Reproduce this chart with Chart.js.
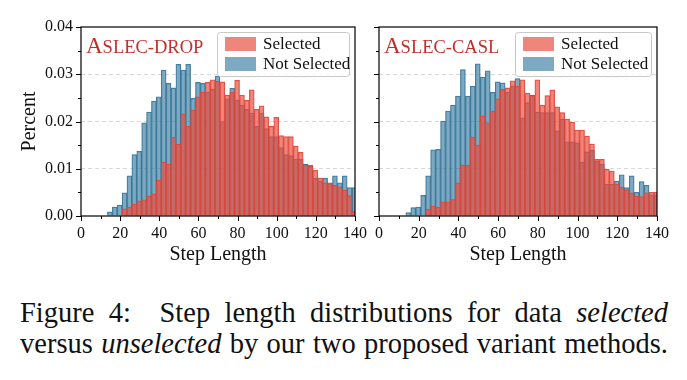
<!DOCTYPE html>
<html>
<head>
<meta charset="utf-8">
<script src="https://cdn.jsdelivr.net/npm/chart.js@4.4.1/dist/chart.umd.min.js"></script>
<style>
  html, body { margin: 0; padding: 0; background: #fff; }
  #wrap { position: relative; width: 687px; height: 380px; overflow: hidden; }
  canvas { position: absolute; top: 0; }
  #left { left: 0; }
  #right { left: 355px; }
  .caption {
    position: absolute; left: 20px; width: 648px;
    font-family: "Liberation Serif", "DejaVu Serif", serif; font-size: 28.5px;
    line-height: 30px; color: #111; white-space: nowrap;
    text-align: justify; text-align-last: justify;
  }
</style>
</head>
<body>
<div id="wrap">
  <canvas id="left" width="375" height="270"></canvas>
  <canvas id="right" width="332" height="270"></canvas>
  <div class="caption" style="top:298px">Figure 4:&nbsp; Step length distributions for data <i>selected</i></div>
  <div class="caption" style="top:329px">versus <i>unselected</i> by our two proposed variant methods.</div>
</div>
<script>
// histogram bins (bin centres, step length)
const binCenters = [14.75, 17.25, 19.75, 22.25, 24.75, 27.25, 29.75, 32.25, 34.75, 37.25,
  39.75, 42.25, 44.75, 47.25, 49.75, 52.25, 54.75, 57.25, 59.75, 62.25,
  64.75, 67.25, 69.75, 72.25, 74.75, 77.25, 79.75, 82.25, 84.75, 87.25,
  89.75, 92.25, 94.75, 97.25, 99.75, 102.25, 104.75, 107.25, 109.75, 112.25,
  114.75, 117.25, 119.75, 122.25, 124.75, 127.25, 129.75, 132.25, 134.75, 137.25, 139.75];

// ASLEC-DROP
const dropSelected = [0, 0, 0, 0.0015, 0.0019, 0.0025, 0.0032, 0.0034, 0.0042, 0.0047,
  0.0076, 0.0114, 0.0110, 0.0167, 0.0152, 0.0216, 0.0190, 0.0224, 0.0252, 0.0262,
  0.0283, 0.0288, 0.0285, 0.0284, 0.0256, 0.0262, 0.0287, 0.0256, 0.0245, 0.0267,
  0.0226, 0.0233, 0.0210, 0.0190, 0.0209, 0.0170, 0.0168, 0.0168, 0.0148, 0.0135,
  0.0108, 0.0108, 0.0097, 0.0080, 0.0070, 0.0068, 0.0065, 0.0062, 0.0055, 0.0043, 0.0010];
const dropNotSelected = [0.0009, 0.0019, 0.0023, 0.0049, 0.0085, 0.0130, 0.0137, 0.0197, 0.0220, 0.0243,
  0.0252, 0.0309, 0.0281, 0.0271, 0.0321, 0.0309, 0.0321, 0.0249, 0.0283, 0.0281,
  0.0262, 0.0268, 0.0296, 0.0200, 0.0248, 0.0270, 0.0245, 0.0235, 0.0226, 0.0218,
  0.0190, 0.0218, 0.0185, 0.0168, 0.0168, 0.0145, 0.0130, 0.0128, 0.0120, 0.0120,
  0.0110, 0.0105, 0.0080, 0.0074, 0.0080, 0.0070, 0.0085, 0.0070, 0.0085, 0.0060, 0.0060];

// ASLEC-CASL
const caslSelected = [0, 0, 0, 0, 0.0014, 0.0021, 0.0019, 0.0030, 0.0030, 0.0035,
  0.0070, 0.0108, 0.0107, 0.0167, 0.0150, 0.0212, 0.0197, 0.0222, 0.0248, 0.0268,
  0.0271, 0.0286, 0.0275, 0.0288, 0.0260, 0.0255, 0.0288, 0.0235, 0.0255, 0.0267,
  0.0231, 0.0219, 0.0205, 0.0199, 0.0182, 0.0182, 0.0169, 0.0152, 0.0120, 0.0120,
  0.0099, 0.0095, 0.0067, 0.0061, 0.0056, 0.0049, 0.0042, 0.0041, 0.0049, 0.0050, 0.0050];
const caslNotSelected = [0.0007, 0.0018, 0.0019, 0.0044, 0.0085, 0.0140, 0.0141, 0.0201, 0.0222, 0.0235,
  0.0254, 0.0310, 0.0254, 0.0275, 0.0322, 0.0294, 0.0307, 0.0262, 0.0284, 0.0282,
  0.0262, 0.0275, 0.0291, 0.0208, 0.0240, 0.0256, 0.0220, 0.0219, 0.0219, 0.0219,
  0.0180, 0.0205, 0.0157, 0.0157, 0.0155, 0.0114, 0.0136, 0.0139, 0.0116, 0.0110,
  0.0067, 0.0067, 0.0074, 0.0087, 0.0060, 0.0085, 0.0050, 0.0073, 0.0065, 0.0045, 0.0045];

const xTicks = [0, 20, 40, 60, 80, 100, 120, 140];
const yTicks = [0, 0.01, 0.02, 0.03, 0.04];
const seriesNames = ["Selected", "Not Selected"];

const SERIF = '"Liberation Serif", "DejaVu Serif", serif';
const RED = 'rgba(231, 76, 60, 0.68)';
const RED_EDGE = 'rgba(222, 66, 56, 0.9)';
const BLUE = 'rgba(58, 126, 162, 0.66)';
const BLUE_EDGE = 'rgba(44, 104, 140, 0.85)';

const isMajor = (v, step) => Math.abs(v / step - Math.round(v / step)) < 1e-6;

// frame, short minor ticks, panel name and legend
const panelDecor = {
  id: 'panelDecor',
  afterDraw(chart, args, opts) {
    const ctx = chart.ctx;
    const { left, right, top, bottom } = chart.chartArea;
    const xs = chart.scales.x, ys = chart.scales.y;
    ctx.save();
    ctx.strokeStyle = '#000';
    ctx.lineWidth = 1;
    ctx.beginPath();
    xs.ticks.forEach(t => {
      const px = Math.round(xs.getPixelForValue(t.value)) + 0.5;
      const len = xTicks.includes(t.value) ? 5 : 3;
      ctx.moveTo(px, bottom); ctx.lineTo(px, bottom + len);
    });
    ys.ticks.forEach(t => {
      const py = Math.round(ys.getPixelForValue(t.value)) + 0.5;
      const len = isMajor(t.value, 0.01) ? 5 : 3;
      ctx.moveTo(left, py); ctx.lineTo(left - len, py);
    });
    ctx.stroke();
    ctx.lineWidth = 1.2;
    ctx.strokeRect(left, top, right - left, bottom - top);

    // panel name in small caps
    ctx.fillStyle = '#c0302a';
    ctx.textBaseline = 'alphabetic';
    ctx.font = '23px ' + SERIF;
    ctx.fillText(opts.name[0], left + 5, top + 26);
    const w = ctx.measureText(opts.name[0]).width;
    ctx.font = '18.5px ' + SERIF;
    ctx.fillText(opts.name.slice(1), left + 5 + w, top + 26);

    // legend
    const bx = opts.legendX, by = top + 5, bw = right - 6 - opts.legendX, bh = 44;
    ctx.beginPath();
    ctx.roundRect(bx + 0.5, by + 0.5, bw, bh, 3);
    ctx.fillStyle = 'rgba(255,255,255,0.8)';
    ctx.fill();
    ctx.strokeStyle = '#c8c8c8';
    ctx.lineWidth = 1;
    ctx.stroke();
    const colors = [RED, BLUE];
    ctx.font = '17px ' + SERIF;
    ctx.textBaseline = 'middle';
    seriesNames.forEach((name, i) => {
      const cy = by + 12 + i * 20;
      ctx.fillStyle = colors[i];
      ctx.fillRect(bx + 8, cy - 7, 31, 14);
      ctx.fillStyle = '#111';
      ctx.fillText(name, bx + 46, cy + 1);
    });
    ctx.restore();
  }
};

function makePanel(canvasId, name, selected, notSelected, showY, legendX) {
  const pts = arr => binCenters.map((x, i) => ({ x: x, y: arr[i] }));
  return new Chart(document.getElementById(canvasId), {
    type: 'bar',
    plugins: [panelDecor],
    data: {
      datasets: [
        { label: seriesNames[0], data: pts(selected), backgroundColor: RED, borderColor: RED_EDGE,
          borderWidth: { left: 0.6, right: 0.6, top: 0.6, bottom: 0 }, clip: 0 },
        { label: seriesNames[1], data: pts(notSelected), backgroundColor: BLUE, borderColor: BLUE_EDGE,
          borderWidth: { left: 0.6, right: 0.6, top: 0.6, bottom: 0 }, clip: 0 }
      ]
    },
    options: {
      responsive: false,
      animation: false,
      events: [],
      grouped: false,
      barPercentage: 1,
      categoryPercentage: 1,
      layout: { padding: { left: showY ? 14 : 0, right: showY ? 14 : 30, top: 27, bottom: 0 } },
      plugins: {
        legend: { display: false },
        tooltip: { enabled: false },
        panelDecor: { name: name, legendX: legendX }
      },
      scales: {
        x: {
          type: 'linear', min: 0, max: 140, offset: false,
          afterFit: s => { s.height = 54; },
          grid: { display: true, drawOnChartArea: false, drawTicks: false, offset: false },
          border: { display: false },
          ticks: {
            stepSize: 10, padding: 8, color: '#111', maxRotation: 0, autoSkip: false,
            font: { family: SERIF, size: 16 },
            callback: v => xTicks.includes(v) ? String(v) : ''
          },
          title: { display: true, text: 'Step Length', color: '#111', font: { family: SERIF, size: 20 }, padding: { top: 0, bottom: 3 } }
        },
        y: {
          min: 0, max: 0.04,
          afterFit: s => { s.width = showY ? 67 : 24; },
          grid: {
            drawTicks: false, lineWidth: 0.9,
            color: c => (isMajor(c.tick.value, 0.01) && c.tick.value > 0.001 && c.tick.value < 0.039) ? '#d4d4d4' : 'rgba(0,0,0,0)'
          },
          border: { display: false, dash: [4, 3] },
          ticks: {
            stepSize: 0.005, padding: 8, color: '#111', autoSkip: false,
            font: { family: SERIF, size: 16 },
            callback: v => (showY && isMajor(v, 0.01)) ? v.toFixed(2) : ''
          },
          title: { display: showY, text: 'Percent', color: '#111', font: { family: SERIF, size: 20 }, padding: { top: 4, bottom: 0 } }
        }
      }
    }
  });
}

makePanel('left', 'ASLEC-DROP', dropSelected, dropNotSelected, true, 217);
makePanel('right', 'ASLEC-CASL', caslSelected, caslNotSelected, false, 160);
</script>
</body>
</html>
